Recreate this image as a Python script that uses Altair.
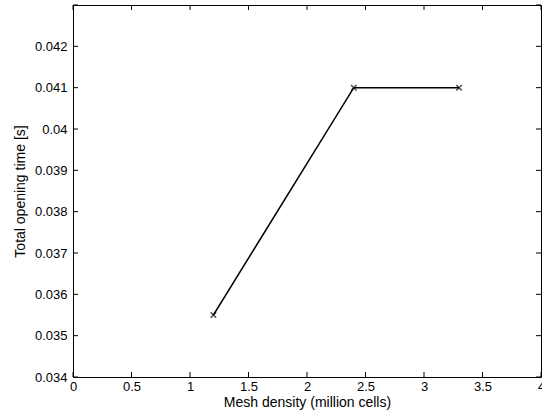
import altair as alt
import pandas as pd

mesh = [1.2, 2.4, 3.3]
opening = [0.0355, 0.041, 0.041]
x_ticks = [0, 0.5, 1, 1.5, 2, 2.5, 3, 3.5, 4]
y_ticks = [0.034, 0.035, 0.036, 0.037, 0.038, 0.039, 0.040, 0.041, 0.042, 0.043]

W, H = 468, 372
df = pd.DataFrame({"x": mesh, "y": opening})
xt = pd.DataFrame({"x": x_ticks})
yt = pd.DataFrame({"y": y_ticks})

xs = alt.Scale(domain=[0, 4], nice=False, zero=False)
ys = alt.Scale(domain=[0.034, 0.043], nice=False, zero=False)

FONT = "Liberation Sans"

base = alt.Chart(df)
line = base.mark_line(color="black", strokeWidth=1.5).encode(
    x=alt.X("x:Q", scale=xs, title="Mesh density (million cells)",
            axis=alt.Axis(values=x_ticks, tickSize=0, labelPadding=3, titlePadding=2,
                          domain=False, grid=False, labelFlush=False, labelOverlap=False,
                          titleFontWeight="normal",
                          labelExpr="format(datum.value, '~g')")),
    y=alt.Y("y:Q", scale=ys, title="Total opening time [s]",
            axis=alt.Axis(values=y_ticks[:-1], tickSize=0, labelPadding=6, titlePadding=7,
                          domain=False, grid=False, labelOverlap=False,
                          titleFontWeight="normal",
                          labelExpr="format(datum.value, '~g')")),
)
pts = base.mark_point(shape="M-1,-1L1,1M-1,1L1,-1", size=30, filled=False,
                      color="black", strokeWidth=1.5).encode(
    x=alt.X("x:Q", scale=xs), y=alt.Y("y:Q", scale=ys))

tk = 5
xb = alt.Chart(xt).mark_rule(color="black").encode(
    x=alt.X("x:Q", scale=xs), y=alt.value(H), y2=alt.value(H - tk))
xtop = alt.Chart(xt).mark_rule(color="black").encode(
    x=alt.X("x:Q", scale=xs), y=alt.value(0), y2=alt.value(tk))
yl = alt.Chart(yt).mark_rule(color="black").encode(
    y=alt.Y("y:Q", scale=ys), x=alt.value(0), x2=alt.value(tk))
yr = alt.Chart(yt).mark_rule(color="black").encode(
    y=alt.Y("y:Q", scale=ys), x=alt.value(W), x2=alt.value(W - tk))

chart = alt.layer(xb, xtop, yl, yr, line, pts).properties(
    width=W, height=H,
    background="white",
    autosize=alt.AutoSizeParams(type="none"),
    padding={"left": 73, "top": 5, "right": 1, "bottom": 41},
).configure_view(stroke="black", strokeWidth=1).configure_axis(
    labelFont=FONT, titleFont=FONT, labelFontSize=13, titleFontSize=14,
    labelColor="black", titleColor="black", titleFontWeight="normal",
)

chart.save("out.html", embed_options={"renderer": "svg", "actions": False})
